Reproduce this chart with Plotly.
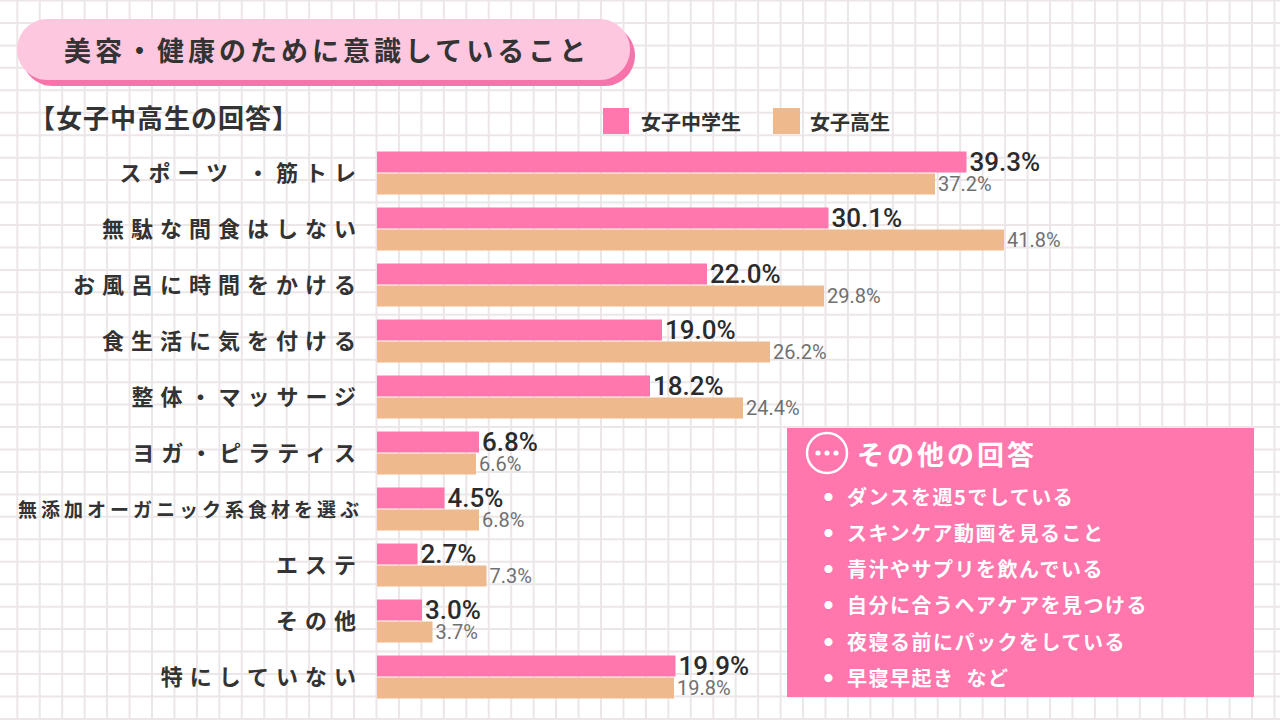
import plotly.graph_objects as go

# データ
categories = ["スポーツ ・筋トレ", "無駄な間食はしない", "お風呂に時間をかける", "食生活に気を付ける",
              "整体・マッサージ", "ヨガ・ピラティス", "無添加オーガニック系食材を選ぶ", "エステ",
              "その他", "特にしていない"]
junior_high = [39.3, 30.1, 22.0, 19.0, 18.2, 6.8, 4.5, 2.7, 3.0, 19.9]
high_school = [37.2, 41.8, 29.8, 26.2, 24.4, 6.6, 6.8, 7.3, 3.7, 19.8]
series_names = ["女子中学生", "女子高生"]
other_answers = ["ダンスを週5でしている", "スキンケア動画を見ること", "青汁やサプリを飲んでいる",
                 "自分に合うヘアケアを見つける", "夜寝る前にパックをしている", "早寝早起き  など"]

W, H = 1280, 720
PINK = "#ff77ad"
ORANGE = "#eeb98c"
DARK = "#333333"
JP = "Noto Sans CJK JP"


def px(x):
    return x / W


def py(y):
    return 1 - y / H


def pill(x0, y0, x1, y1):
    r = (y1 - y0) / 2
    k = 0.5523 * r
    pts = [
        f"M {px(x0 + r)} {py(y0)}",
        f"L {px(x1 - r)} {py(y0)}",
        f"C {px(x1 - r + k)} {py(y0)} {px(x1)} {py(y0 + r - k)} {px(x1)} {py(y0 + r)}",
        f"C {px(x1)} {py(y0 + r + k)} {px(x1 - r + k)} {py(y1)} {px(x1 - r)} {py(y1)}",
        f"L {px(x0 + r)} {py(y1)}",
        f"C {px(x0 + r - k)} {py(y1)} {px(x0)} {py(y0 + r + k)} {px(x0)} {py(y0 + r)}",
        f"C {px(x0)} {py(y0 + r - k)} {px(x0 + r - k)} {py(y0)} {px(x0 + r)} {py(y0)}",
        "Z",
    ]
    return " ".join(pts)


def label(c):
    if len(c) > 12:
        return f"<span style='font-size:19px;letter-spacing:4px'>{c}</span>"
    return f"<span style='letter-spacing:7px'>{c}</span>"


def note(text, x, y, size, color=DARK, xanchor="left", spacing=0):
    if spacing:
        text = f"<span style='letter-spacing:{spacing}px'>{text}</span>"
    return dict(text=text, x=px(x), y=py(y), xref="paper", yref="paper",
                xanchor=xanchor, yanchor="middle", showarrow=False,
                font=dict(family=JP, size=size, color=color))


fig = go.Figure()
fig.add_trace(go.Bar(
    y=categories, x=junior_high, name=series_names[0], orientation="h",
    marker=dict(color=PINK, line=dict(width=0)),
    text=[f"{v:.1f}%" for v in junior_high], textposition="outside",
    textfont=dict(family="Roboto", size=26, color="#2b2b2b", weight=500),
    cliponaxis=False, constraintext="none",
))
fig.add_trace(go.Bar(
    y=categories, x=high_school, name=series_names[1], orientation="h",
    marker=dict(color=ORANGE, line=dict(width=0)),
    text=[f"{v:.1f}%" for v in high_school], textposition="outside",
    textfont=dict(family="Roboto", size=20, color="#707070"),
    cliponaxis=False, constraintext="none",
))

shapes = []
# 方眼の背景
gx = 17.3
while gx < W:
    shapes.append(dict(type="line", xref="paper", yref="paper", x0=px(gx), x1=px(gx), y0=0, y1=1,
                       line=dict(color="#ece6e9", width=2), layer="below"))
    gx += 22.45
gy = 0.5
while gy < H:
    shapes.append(dict(type="line", xref="paper", yref="paper", x0=0, x1=1, y0=py(gy), y1=py(gy),
                       line=dict(color="#ece6e9", width=2), layer="below"))
    gy += 22.45

# タイトルの帯
shapes.append(dict(type="path", xref="paper", yref="paper", path=pill(22, 25, 635, 86),
                   fillcolor="#f774ab", line=dict(width=0), layer="below"))
shapes.append(dict(type="path", xref="paper", yref="paper", path=pill(17, 19, 630, 80),
                   fillcolor="#fdc8df", line=dict(width=0), layer="below"))

# 凡例
shapes.append(dict(type="rect", xref="paper", yref="paper", x0=px(603), x1=px(629), y0=py(108), y1=py(134),
                   fillcolor=PINK, line=dict(width=0)))
shapes.append(dict(type="rect", xref="paper", yref="paper", x0=px(773), x1=px(800), y0=py(108), y1=py(134),
                   fillcolor=ORANGE, line=dict(width=0)))

# その他の回答ボックス
shapes.append(dict(type="rect", xref="paper", yref="paper", x0=px(787), x1=px(1254), y0=py(428), y1=py(697),
                   fillcolor=PINK, line=dict(width=0)))
shapes.append(dict(type="circle", xref="paper", yref="paper", x0=px(807), x1=px(847), y0=py(433), y1=py(473),
                   line=dict(color="white", width=2.5)))
for dx in (-9, 0, 9):
    shapes.append(dict(type="circle", xref="paper", yref="paper", x0=px(827 + dx - 2.6), x1=px(827 + dx + 2.6),
                       y0=py(453 - 2.6), y1=py(453 + 2.6), fillcolor="white", line=dict(width=0)))

annotations = [
    note("<b>美容・健康のために意識していること</b>", 327, 50, 27, xanchor="center", spacing=4),
    note("<b>【女子中高生の回答】</b>", 27, 117, 26, spacing=1),
    note(f"<b>{series_names[0]}</b>", 639, 121, 20),
    note(f"<b>{series_names[1]}</b>", 808, 121, 20),
    note("<b>その他の回答</b>", 855, 453, 27, color="white", spacing=3),
]
for i, t in enumerate(other_answers):
    yy = 496 + i * 36.3
    annotations.append(note("●", 828, yy, 9, color="white", xanchor="center"))
    annotations.append(note(f"<b>{t}</b>", 845, yy, 20, color="white", spacing=1.5))

fig.update_layout(
    width=W, height=H,
    margin=dict(l=0, r=0, t=0, b=0),
    paper_bgcolor="white", plot_bgcolor="rgba(0,0,0,0)",
    barmode="group", bargap=0.214, bargroupgap=0.045,
    showlegend=False,
    xaxis=dict(range=[0, 60], domain=[px(377), px(1277)], visible=False, fixedrange=True),
    yaxis=dict(categoryorder="array", categoryarray=categories, autorange="reversed",
               domain=[py(705), py(145)], showgrid=False, zeroline=False, showline=False,
               tickmode="array", tickvals=categories, ticktext=[label(c) for c in categories],
               ticks="", ticklabelstandoff=13,
               tickfont=dict(family=JP, size=22, color=DARK, weight="bold")),
    shapes=shapes,
    annotations=annotations,
)

fig.write_html("out.html", config={"displayModeBar": False},
               post_script="document.body.style.margin='0px';")
